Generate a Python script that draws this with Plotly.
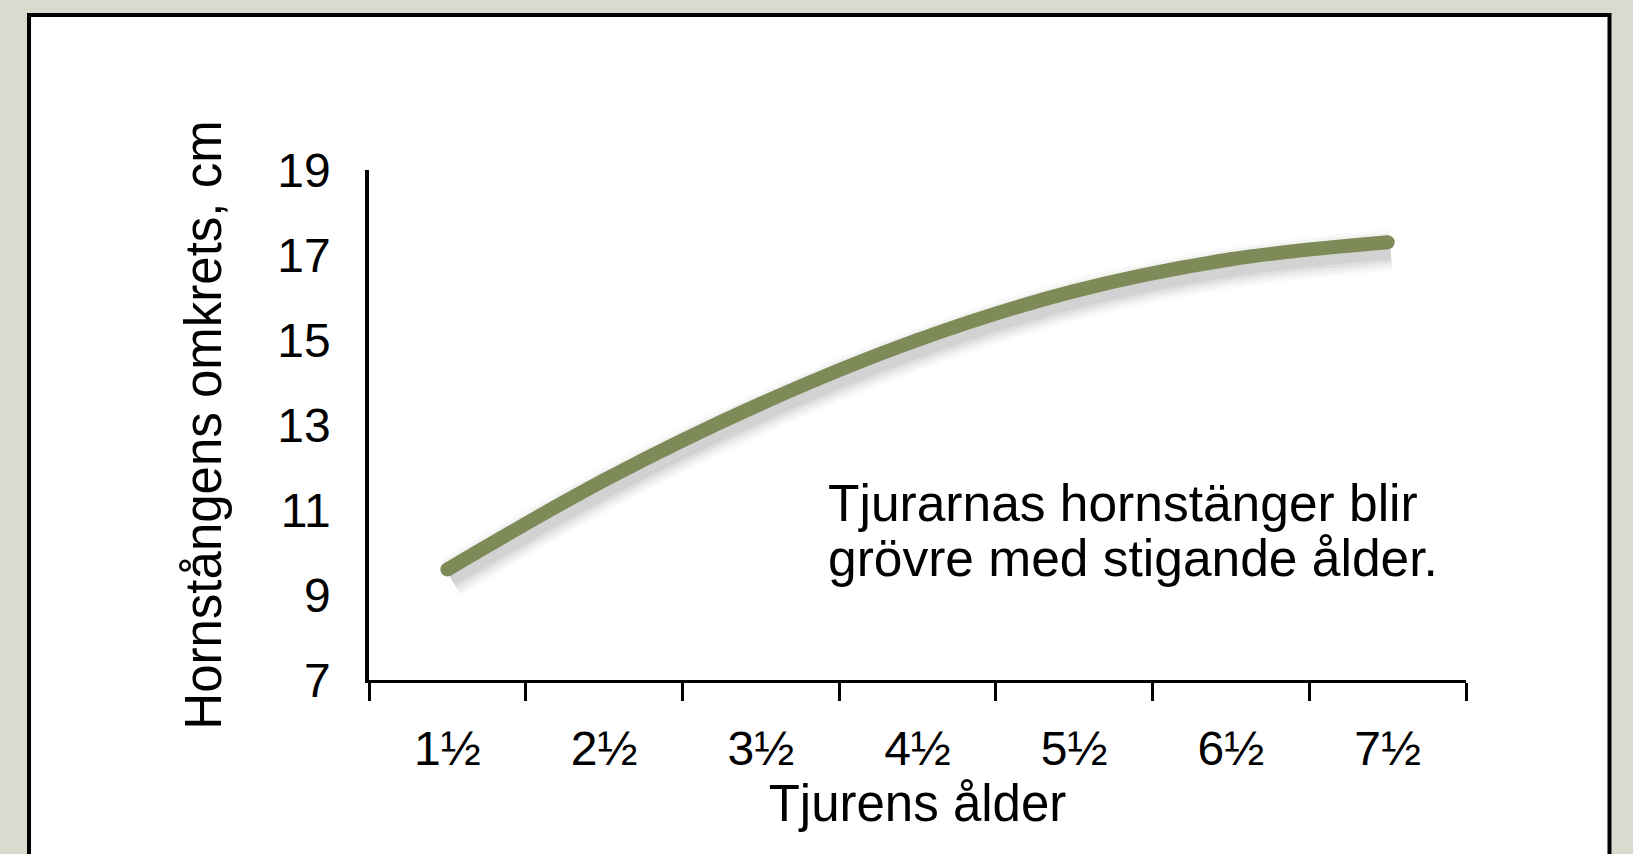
import plotly.graph_objects as go

# ---- data ----
age_labels = ["1½", "2½", "3½", "4½", "5½", "6½", "7½"]
circumference_cm = [9.6, 11.7, 13.5, 15.0, 16.15, 16.9, 17.3]
y_ticks = [7, 9, 11, 13, 15, 17, 19]
x_title = "Tjurens ålder"
y_title = "Hornstångens omkrets, cm"
note_lines = ["Tjurarnas hornstänger blir", "grövre med stigande ålder."]

W, H = 1633, 854
ML, MR, MT, MB = 369, 167, 170, 174
PW, PH = W - ML - MR, H - MT - MB

LINE_COLOR = "#7E8A58"
BG = "#DADBCF"
FONT = "Liberation Sans, Arial, Helvetica, sans-serif"
N = len(age_labels)
YR = [7, 19]

fig = go.Figure()

# soft drop shadow: same data on the (hidden) base axes whose range is shifted a few px
shadow_dx_px, shadow_dy_px = 3, 8
dx = shadow_dx_px * N / PW
dy = shadow_dy_px * (YR[1] - YR[0]) / PH
for w, a in [(42, 0.02), (36, 0.03), (30, 0.035), (24, 0.045), (18, 0.05)]:
    fig.add_trace(go.Scatter(
        x=age_labels, y=circumference_cm, xaxis="x", yaxis="y", mode="lines",
        line=dict(color=f"rgba(0,0,0,{a})", width=w, shape="spline", smoothing=1.0),
        hoverinfo="skip", showlegend=False,
    ))

# main line on the visible overlay axes (drawn on top)
fig.add_trace(go.Scatter(
    x=age_labels, y=circumference_cm, xaxis="x2", yaxis="y2", mode="lines+markers",
    line=dict(color=LINE_COLOR, width=14, shape="spline", smoothing=1.0),
    marker=dict(color=LINE_COLOR, size=14, line=dict(width=0)),
    showlegend=False,
))

def px_to_paper_x(px):
    return (px - ML) / PW

def px_to_paper_y(py):
    return (H - MB - py) / PH

# white framed panel
fig.add_shape(type="rect", xref="paper", yref="paper",
              x0=px_to_paper_x(29), x1=px_to_paper_x(1609.5),
              y0=px_to_paper_y(880), y1=px_to_paper_y(15),
              fillcolor="white", line=dict(color="black", width=4), layer="below")

for i, txt in enumerate(note_lines):
    fig.add_annotation(text=txt, xref="paper", yref="paper",
                       x=px_to_paper_x(826), y=px_to_paper_y(503 + 55 * i),
                       xanchor="left", yanchor="middle", showarrow=False,
                       font=dict(size=51.5, color="black", family=FONT))

fig.update_layout(
    width=W, height=H,
    margin=dict(l=ML, r=MR, t=MT, b=MB, autoexpand=False),
    paper_bgcolor=BG,
    plot_bgcolor="rgba(0,0,0,0)",
    font=dict(family=FONT, color="black"),
    xaxis=dict(type="category", categoryorder="array", categoryarray=age_labels,
               range=[-0.5 - dx, N - 0.5 - dx], visible=False, fixedrange=True),
    yaxis=dict(range=[YR[0] + dy, YR[1] + dy], visible=False, fixedrange=True),
    xaxis2=dict(
        overlaying="x", side="bottom",
        type="category", categoryorder="array", categoryarray=age_labels,
        range=[-0.5, N - 0.5],
        showline=True, linecolor="black", linewidth=3,
        ticks="outside", tickson="boundaries", ticklen=18, tickwidth=3, tickcolor="black",
        showgrid=False, zeroline=False,
        tickfont=dict(size=48, family=FONT), ticklabelstandoff=24,
        title=dict(text=x_title, font=dict(size=51, family=FONT), standoff=12),
        fixedrange=True,
    ),
    yaxis2=dict(
        overlaying="y", side="left",
        range=YR, tickvals=y_ticks, ticktext=[str(v) for v in y_ticks],
        showline=True, linecolor="black", linewidth=3.5,
        ticks="", showgrid=False, zeroline=False,
        tickfont=dict(size=48, family=FONT), ticklabelstandoff=25,
        title=dict(text=y_title, font=dict(size=51, family=FONT), standoff=40),
        fixedrange=True,
    ),
)

post = ("document.body.style.margin='0';"
        f"document.body.style.background='{BG}';"
        "document.documentElement.style.overflow='hidden';")
fig.write_html("out.html", post_script=post, config={"displayModeBar": False})
